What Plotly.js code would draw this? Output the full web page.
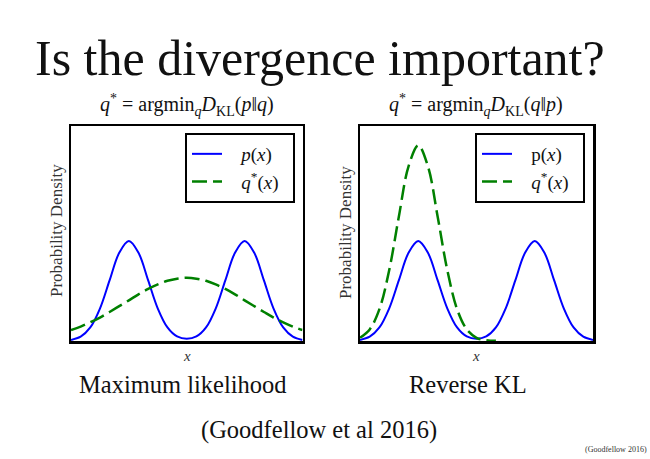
<!DOCTYPE html>
<html>
<head>
<meta charset="utf-8">
<script src="https://cdn.plot.ly/plotly-3.0.1.min.js"></script>
<style>html,body{margin:0;padding:0;background:#fff;}#chart{width:650px;height:459px;}</style>
</head>
<body>
<div id="chart"></div>
<script>
// x sample positions (shared by all curves)
var xs = [-6, -5.5, -5, -4.5, -4, -3.5, -3, -2.5, -2, -1.5, -1, -0.5, 0,
          0.5, 1, 1.5, 2, 2.5, 3, 3.5, 4, 4.5, 5, 5.5, 6];
// p(x): bimodal target density (fraction of plot height)
var pVals = [0.005, 0.020, 0.063, 0.151, 0.282, 0.410, 0.465, 0.410, 0.282, 0.151, 0.063, 0.021, 0.010,
             0.021, 0.063, 0.151, 0.282, 0.410, 0.465, 0.410, 0.282, 0.151, 0.063, 0.020, 0.005];
// q*(x) for maximum likelihood (forward KL): broad unimodal
var qMLVals = [0.051, 0.067, 0.087, 0.109, 0.135, 0.162, 0.189, 0.217, 0.242, 0.263, 0.280, 0.290, 0.294,
               0.290, 0.280, 0.263, 0.242, 0.217, 0.189, 0.162, 0.135, 0.109, 0.087, 0.067, 0.051];
// q*(x) for reverse KL: locks onto the left mode (visible part, x from -6 to 1)
var xsR = [-6, -5.5, -5, -4.5, -4, -3.5, -3, -2.5, -2, -1.5, -1, -0.5, 0, 0.5, 1];
var qRKLVals = [0.015, 0.054, 0.148, 0.328, 0.578, 0.812, 0.910, 0.812, 0.578, 0.328, 0.148, 0.054, 0.015,
                0.0035, 0.0006];

var serif = 'Liberation Serif, Times New Roman, serif';
var blue = '#0000ff', green = '#008000';
var dashG = '15px,6px';
var sp = '&nbsp;&nbsp;&nbsp;';
var tail = '&nbsp;&nbsp;';

var traces = [
  {x: xs, y: pVals, type: 'scatter', mode: 'lines', name: sp + '<i>p</i>(<i>x</i>)' + tail,
   line: {color: blue, width: 2, shape: 'spline'}, xaxis: 'x', yaxis: 'y', legend: 'legend'},
  {x: xs, y: qMLVals, type: 'scatter', mode: 'lines', name: sp + '<i>q</i><sup>*</sup>(<i>x</i>)' + tail,
   line: {color: green, width: 2.5, dash: dashG, shape: 'spline'}, xaxis: 'x', yaxis: 'y', legend: 'legend'},
  {x: xs, y: pVals, type: 'scatter', mode: 'lines', name: sp + 'p(<i>x</i>)' + tail,
   line: {color: blue, width: 2, shape: 'spline'}, xaxis: 'x2', yaxis: 'y2', legend: 'legend2'},
  {x: xsR, y: qRKLVals, type: 'scatter', mode: 'lines', name: sp + '<i>q</i><sup>*</sup>(<i>x</i>)' + tail,
   line: {color: green, width: 2.5, dash: dashG, shape: 'spline'}, xaxis: 'x2', yaxis: 'y2', legend: 'legend2'}
];

function ax(domain, anchor) {
  return {domain: domain, anchor: anchor, range: null, showgrid: false, zeroline: false,
          showticklabels: false, ticks: '', showline: true, mirror: true,
          linecolor: '#000', linewidth: 2.5, fixedrange: true};
}
var xa1 = ax([71/650, 302.5/650], 'y'); xa1.range = [-6, 6];
var xa2 = ax([360/650, 593/650], 'y2'); xa2.range = [-6, 6];
var ya1 = ax([1-341/459, 1-126/459], 'x'); ya1.range = [0, 1];
var ya2 = ax([1-341/459, 1-126/459], 'x2'); ya2.range = [0, 1];

function py(p) { return 1 - p/459; }
function px(p) { return p/650; }
function ann(text, x, y, size, extra) {
  var a = {text: text, xref: 'paper', yref: 'paper', x: px(x), y: py(y), xanchor: 'center', yanchor: 'middle',
           showarrow: false, font: {family: serif, size: size, color: '#111'}};
  if (extra) for (var k in extra) a[k] = extra[k];
  return a;
}

var legendCommon = {bordercolor: '#000', borderwidth: 2, bgcolor: '#fff',
                    font: {family: serif, size: 19, color: '#111'}, xanchor: 'right', yanchor: 'top'};
var leg1 = Object.assign({}, legendCommon, {x: px(295), y: py(133)});
var leg2 = Object.assign({}, legendCommon, {x: px(585), y: py(133)});

var layout = {
  width: 650, height: 459,
  margin: {l: 0, r: 0, t: 0, b: 0},
  paper_bgcolor: '#fff', plot_bgcolor: '#fff',
  showlegend: true,
  legend: leg1, legend2: leg2,
  xaxis: xa1, yaxis: ya1, xaxis2: xa2, yaxis2: ya2,
  annotations: [
    ann('Is the divergence important?', 320, 58, 50),
    ann('<i>q</i><sup>*</sup> = argmin<sub><i>q</i></sub><i>D</i><sub>KL</sub>(<i>p</i>‖<i>q</i>)', 187, 105, 20),
    ann('<i>q</i><sup>*</sup> = argmin<sub><i>q</i></sub><i>D</i><sub>KL</sub>(<i>q</i>‖<i>p</i>)', 476, 105, 20),
    ann('Probability Density', 56, 231, 17, {textangle: -90, font: {family: serif, size: 17, color: '#333'}}),
    ann('Probability Density', 345, 233, 17, {textangle: -90, font: {family: serif, size: 17, color: '#333'}}),
    ann('<i>x</i>', 187, 356, 15, {font: {family: serif, size: 15, color: '#333'}}),
    ann('<i>x</i>', 476, 356, 15, {font: {family: serif, size: 15, color: '#333'}}),
    ann('Maximum likelihood', 183, 384, 24.5),
    ann('Reverse KL', 468, 384, 24.5),
    ann('(Goodfellow et al 2016)', 319, 430, 24.5),
    ann('(Goodfellow 2016)', 616, 449, 8, {font: {family: serif, size: 8, color: '#333'}})
  ]
};

Plotly.newPlot('chart', traces, layout, {displayModeBar: false, staticPlot: true});
</script>
</body>
</html>
